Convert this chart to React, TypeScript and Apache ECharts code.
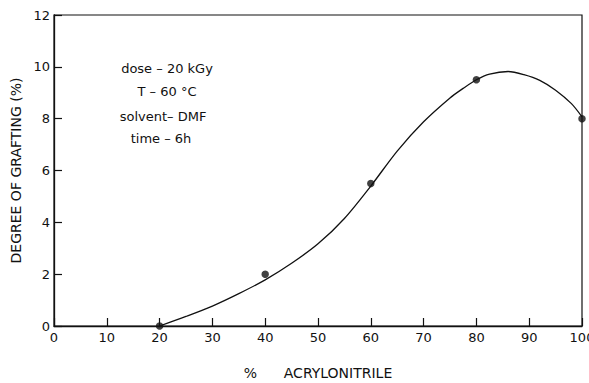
import React, { useEffect, useRef } from "react";
import * as echarts from "echarts";

// Measured points
const acrylonitrile = [20, 40, 60, 80, 100];
const grafting = [0, 2.0, 5.5, 9.5, 8.0];

// Fitted curve
const curveX = [20, 25, 30, 35, 40, 45, 50, 55, 60, 65, 70, 75, 77.5, 80, 82.5, 86, 89, 92, 95, 98, 100];
const curveY = [0, 0.37, 0.77, 1.25, 1.78, 2.42, 3.17, 4.15, 5.4, 6.75, 7.88, 8.8, 9.17, 9.5, 9.72, 9.82, 9.7, 9.48, 9.1, 8.58, 8.07];

const xTicks = [0, 10, 20, 30, 40, 50, 60, 70, 80, 90, 100];
const yTicks = [0, 2, 4, 6, 8, 10, 12];

const notes = ["dose – 20 kGy", "T – 60 °C", "solvent– DMF", "time – 6h"];

const FONT = "'DejaVu Sans', sans-serif";
const INK = "#111";

export default function App() {
  const ref = useRef<HTMLDivElement>(null);
  useEffect(() => {
    if (!ref.current) return;
    const chart = echarts.init(ref.current, undefined, { renderer: "svg" });
    const noteY = [68, 91, 116, 138];
    const noteX = [167, 167, 163, 161];
    chart.setOption({
      animation: false,
      backgroundColor: "#fff",
      grid: {
        left: 54,
        right: 7,
        top: 15,
        bottom: 57,
        outerBoundsMode: "none",
        containLabel: false,
        show: true,
        borderColor: INK,
        borderWidth: 1.2,
        backgroundColor: "transparent",
      },
      xAxis: {
        type: "value",
        min: xTicks[0],
        max: xTicks[xTicks.length - 1],
        interval: 10,
        name: "%      ACRYLONITRILE",
        nameLocation: "middle",
        nameGap: 40,
        nameTextStyle: { color: INK, fontFamily: FONT, fontSize: 14 },
        axisLine: { show: true, lineStyle: { color: INK, width: 1.3 } },
        axisTick: { show: true, inside: true, length: 8, lineStyle: { color: INK, width: 1.2 } },
        axisLabel: { color: INK, fontFamily: FONT, fontSize: 13, margin: 5 },
        splitLine: { show: false },
      },
      yAxis: {
        type: "value",
        min: yTicks[0],
        max: yTicks[yTicks.length - 1],
        interval: 2,
        name: "DEGREE OF GRAFTING (%)",
        nameLocation: "middle",
        nameGap: 30,
        nameRotate: 90,
        nameTextStyle: { color: INK, fontFamily: FONT, fontSize: 14 },
        axisLine: { show: true, lineStyle: { color: INK, width: 1.3 } },
        axisTick: { show: true, inside: true, length: 8, lineStyle: { color: INK, width: 1.2 } },
        axisLabel: { color: INK, fontFamily: FONT, fontSize: 13, margin: 4 },
        splitLine: { show: false },
      },
      graphic: notes.map((t, i) => ({
        type: "text",
        x: noteX[i],
        y: noteY[i],
        style: {
          text: t,
          fill: INK,
          font: `13px ${FONT}`,
          textAlign: "center",
          textVerticalAlign: "middle",
        },
      })),
      series: [
        {
          type: "line",
          data: curveX.map((x, i) => [x, curveY[i]]),
          smooth: 0.3,
          showSymbol: false,
          symbol: "none",
          lineStyle: { color: INK, width: 1.3 },
          silent: true,
          z: 2,
        },
        {
          type: "scatter",
          data: acrylonitrile.map((x, i) => [x, grafting[i]]),
          symbol: "circle",
          symbolSize: 7.5,
          itemStyle: { color: INK },
          z: 3,
        },
      ],
    });
    return () => chart.dispose();
  }, []);
  return (
    <div
      ref={ref}
      style={{ position: "fixed", left: 0, top: 0, width: 589, height: 383, background: "#fff" }}
    />
  );
}
